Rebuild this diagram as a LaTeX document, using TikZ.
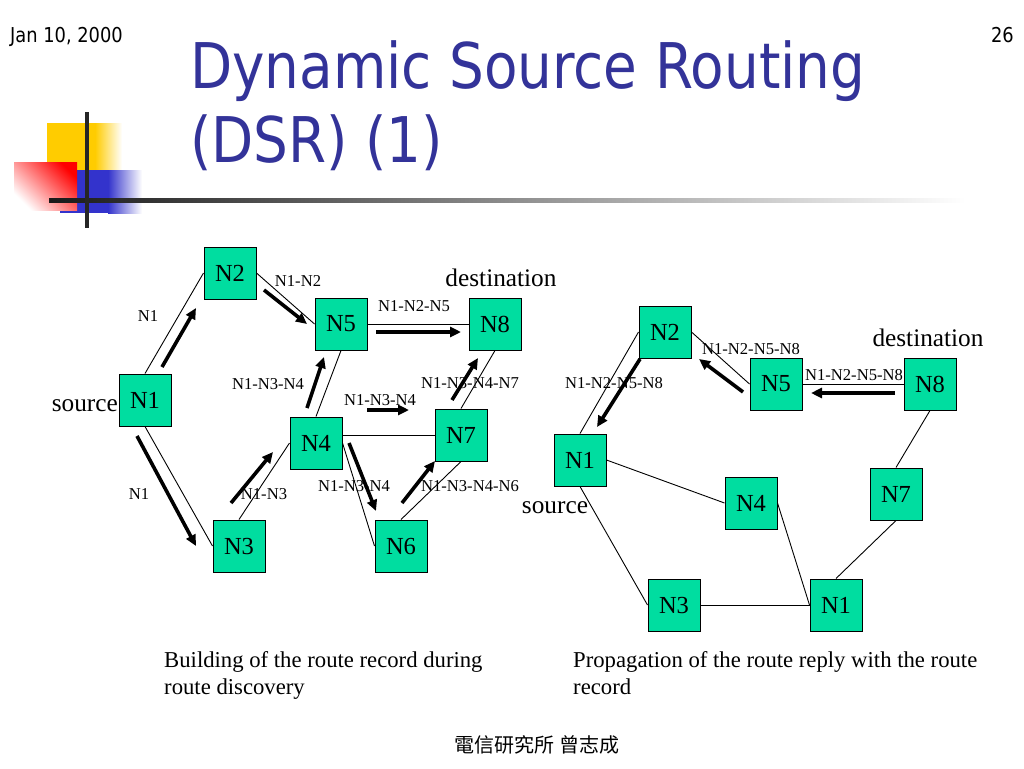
\documentclass[tikz,border=0pt]{standalone}
\usepackage{fontspec}
\setmainfont{Liberation Serif}
\newfontfamily\tahoma[FakeStretch=0.87]{DejaVu Sans}
\newfontfamily\cjkfont{Noto Sans CJK TC}
\usetikzlibrary{arrows.meta}
\definecolor{nodegreen}{RGB}{0,221,160}
\definecolor{titleblue}{RGB}{51,51,153}
\definecolor{logoyellow}{RGB}{255,204,0}
\definecolor{logoblue}{RGB}{51,51,204}
\definecolor{logored}{RGB}{255,0,0}
\tikzset{
  netnode/.style={draw=black, line width=1pt, fill=nodegreen, minimum size=52pt, inner sep=0pt, font=\fontsize{24.5}{24.5}\selectfont},
  lbl/.style={inner sep=0pt, font=\fontsize{16.6}{16.6}\selectfont},
  biglbl/.style={inner sep=0pt, font=\fontsize{25.3}{25.3}\selectfont},
  caption/.style={inner sep=0pt, anchor=base west, font=\fontsize{22.7}{22.7}\selectfont},
  link/.style={draw=black, line width=0.9pt},
  flow/.style={draw=black, line width=3.6pt, -{Triangle[length=11pt,width=10pt]}},
}
\begin{document}
\begin{tikzpicture}[x=1pt,y=-1pt]
\useasboundingbox (0,0) rectangle (1024,768);
\fill[white] (0,0) rectangle (1024,768);

% logo
\fill[logoyellow] (47,123) rectangle (95,176);
\shade[left color=logoyellow, right color=white] (95,123) rectangle (122,176);
\fill[logoblue] (60,170) rectangle (108,213);
\shade[left color=logoblue, right color=white] (108,170) rectangle (142,213);
\shade[top color=logored, bottom color=white, shading angle=-45] (14,162) rectangle (77,210);
\shade[left color=black!90, right color=white] (49,198) rectangle (965,202);
\fill[black!85] (85,112) rectangle (89,228);

% header
\node[inner sep=0pt, anchor=base west, font=\tahoma\fontsize{20.5}{20.5}\selectfont] (date) at (10,43) {Jan 10, 2000};
\node[inner sep=0pt, anchor=base east, font=\tahoma\fontsize{20.5}{20.5}\selectfont] (page) at (1014,43) {26};
\node[inner sep=0pt, anchor=base west, text=titleblue, font=\tahoma\fontsize{63}{63}\selectfont] (title1) at (190,88) {Dynamic Source Routing};
\node[inner sep=0pt, anchor=base west, text=titleblue, font=\tahoma\fontsize{63}{63}\selectfont] (title2) at (190,162) {(DSR) (1)};

% ---------- left diagram ----------
\node[netnode] (L2) at (230,273) {N2};
\node[netnode] (L5) at (341,324) {N5};
\node[netnode] (L8) at (495,324) {N8};
\node[netnode] (L1) at (145,400) {N1};
\node[netnode] (L4) at (316,443) {N4};
\node[netnode] (L7) at (461,435) {N7};
\node[netnode] (L3) at (239,546) {N3};
\node[netnode] (L6) at (401,546) {N6};

\draw[link] (L1.north) -- (L2.west);
\draw[link] (L2.east) -- (L5.west);
\draw[link] (L5.east) -- (L8.west);
\draw[link] (L5.south) -- (L4.north);
\draw[link] (L7.west) -- (L7.west -| L4.east);
\draw[link] (L7.north) -- (L8.south);
\draw[link] (L1.south) -- (L3.west);
\draw[link] (L3.north) -- (L4.west);
\draw[link] (L4.east) -- (L6.west);
\draw[link] (L6.north) -- (L7.south);

\coordinate (a1s) at (162,367); \coordinate (a1e) at (196,308);
\coordinate (a2s) at (264,290); \coordinate (a2e) at (307,324);
\coordinate (a3s) at (376,332); \coordinate (a3e) at (461,332);
\coordinate (a4s) at (307,408); \coordinate (a4e) at (324,357);
\coordinate (a5s) at (367,410); \coordinate (a5e) at (409,410);
\coordinate (a6s) at (452,400); \coordinate (a6e) at (478,358);
\coordinate (a7s) at (137,436); \coordinate (a7e) at (196,546);
\coordinate (a8s) at (231,503); \coordinate (a8e) at (273,452);
\coordinate (a9s) at (349,443); \coordinate (a9e) at (376,511);
\coordinate (a10s) at (402,503); \coordinate (a10e) at (435,461);
\foreach \i in {1,...,10} {\draw[flow] (a\i s) -- (a\i e);}

\node[lbl] (t1) at (298,281) {N1-N2};
\node[lbl] (t2) at (148,316) {N1};
\node[lbl] (t3) at (414,306) {N1-N2-N5};
\node[lbl] (t4) at (268,384) {N1-N3-N4};
\node[lbl] (t5) at (380,400) {N1-N3-N4};
\node[lbl] (t6) at (470,383) {N1-N3-N4-N7};
\node[lbl] (t7) at (139,494) {N1};
\node[lbl] (t8) at (264,494) {N1-N3};
\node[lbl] (t9) at (354,486) {N1-N3-N4};
\node[lbl] (t10) at (470,486) {N1-N3-N4-N6};
\node[biglbl, anchor=east] (src1) at (118,406) {source};
\node[biglbl] (dst1) at (501,278) {destination};

% ---------- right diagram ----------
\node[netnode] (R2) at (665,332) {N2};
\node[netnode] (R5) at (776,384) {N5};
\node[netnode] (R8) at (930,384) {N8};
\node[netnode] (R1) at (580,460) {N1};
\node[netnode] (R4) at (751,503) {N4};
\node[netnode] (R7) at (896,494) {N7};
\node[netnode] (R3) at (674,605) {N3};
\node[netnode] (R1b) at (836,605) {N1};

\draw[link] (R1.north) -- (R2.west);
\draw[link] (R2.east) -- (R5.west);
\draw[link] (R5.east) -- (R8.west);
\draw[link] (R8.south) -- (R7.north);
\draw[link] (R1.east) -- (R4.west);
\draw[link] (R1.south) -- (R3.west);
\draw[link] (R3.east) -- (R1b.west);
\draw[link] (R4.east) -- (R1b.west);
\draw[link] (R7.south) -- (R1b.north);

\coordinate (b1s) at (895,393); \coordinate (b1e) at (811,393);
\coordinate (b2s) at (743,392); \coordinate (b2e) at (699,359);
\coordinate (b3s) at (640,359); \coordinate (b3e) at (597,427);
\foreach \i in {1,2,3} {\draw[flow] (b\i s) -- (b\i e);}

\node[lbl] (u1) at (751,349) {N1-N2-N5-N8};
\node[lbl] (u2) at (854,375) {N1-N2-N5-N8};
\node[lbl] (u3) at (614,383) {N1-N2-N5-N8};
\node[biglbl] (dst2) at (928,338) {destination};
\node[biglbl] (src2) at (555,508) {source};

% captions
\node[caption] (c1a) at (164,667) {Building of the route record during};
\node[caption] (c1b) at (164,694) {route discovery};
\node[caption] (c2a) at (573,667) {Propagation of the route reply with the route};
\node[caption] (c2b) at (573,694) {record};

\node[inner sep=0pt, font=\cjkfont\fontsize{20}{20}\selectfont] (foot) at (537,745) {電信研究所 曾志成};
\end{tikzpicture}
\end{document}
